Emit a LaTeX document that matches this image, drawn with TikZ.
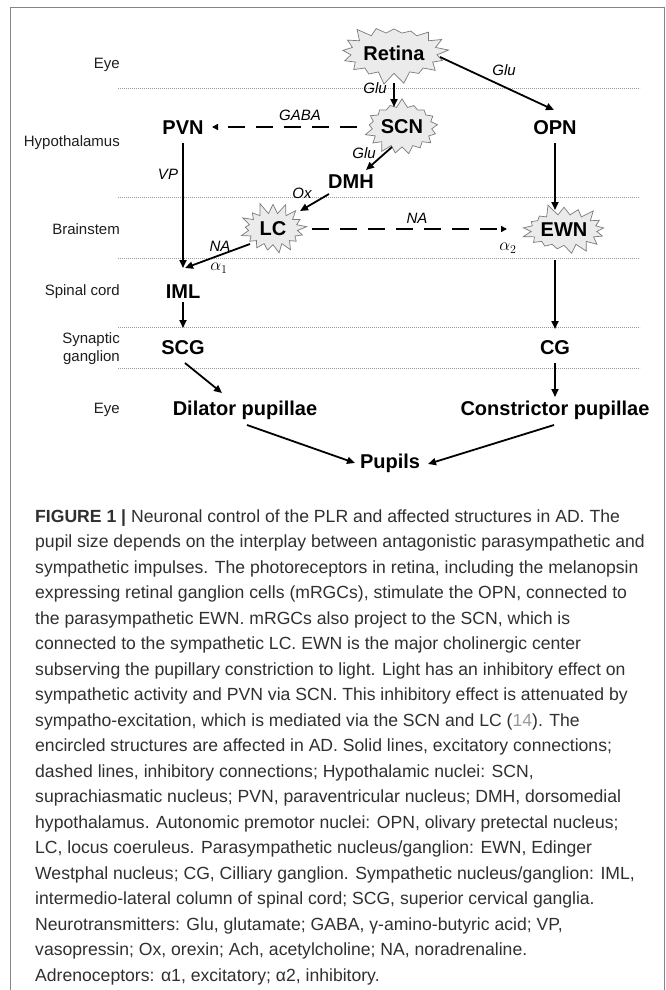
\documentclass[tikz,border=0pt]{standalone}
\usepackage{fontspec}
\setmainfont{Liberation Sans}
\usetikzlibrary{shapes.symbols,arrows.meta,calc}
\definecolor{framegray}{HTML}{858585}
\definecolor{dotgray}{HTML}{9A9A9A}
\definecolor{burstline}{HTML}{7A7A7A}
\definecolor{burstfill}{HTML}{EBEBEB}
\definecolor{captext}{HTML}{303030}
\definecolor{rowtext}{HTML}{1E1E1E}
\definecolor{reflink}{HTML}{9A9A9A}
\begin{document}
\begin{tikzpicture}[x=1pt,y=-1pt,
  nd/.style={font=\fontsize{20}{24}\selectfont\bfseries, inner sep=0pt},
  burst/.style={shape=starburst, draw=burstline, fill=burstfill, line width=0.7pt,
    starburst points=17, random starburst=#1, inner sep=0pt,
    font=\fontsize{20}{24}\selectfont\bfseries},
  burst/.default=1,
  lab/.style={font=\fontsize{15}{18}\selectfont\itshape, inner sep=0pt},
  alab/.style={font=\fontsize{17}{20}\selectfont, inner sep=0pt},
  rowlab/.style={font=\fontsize{15}{18}\selectfont, anchor=east, inner sep=0pt, text=rowtext},
  arr/.style={line width=1.8pt, -{Triangle[length=8pt,width=7pt]}},
  darr/.style={line width=2.4pt, dash pattern=on 17pt off 11pt, -{Triangle[length=6pt,width=6pt]}},
  dline/.style={draw=dotgray, line width=0.7pt, dash pattern=on 0.8pt off 1.2pt},
  captxt/.style={font=\fontsize{17.6}{21}\selectfont, anchor=base west, inner sep=0pt, text=captext}
]
\useasboundingbox (0,0) rectangle (665,990);
\fill[white] (0,0) rectangle (665,990);
\draw[draw=framegray, line width=1pt] (10,1000) -- (10,8) -- (664,8) -- (664,1000);

% dotted separators
\foreach \yy in {88,197,258,327,368}
  \draw[dline] (118,\yy) -- (640,\yy);

% row labels
\node[rowlab] (r1) at (120,65) {Eye};
\node[rowlab] (r2) at (120,143) {Hypothalamus};
\node[rowlab] (r3) at (120,229) {Brainstem};
\node[rowlab] (r4) at (120,292) {Spinal cord};
\node[rowlab, align=right, font=\fontsize{15}{18}\selectfont] (r5) at (120,349) {Synaptic\\ganglion};
\node[rowlab] (r6) at (120,410) {Eye};

% nodes
\node[burst=3, inner xsep=0pt, inner ysep=7pt, starburst point height=12pt] (retina) at (394,53) {Retina};
\node[burst=7, inner xsep=0pt, inner ysep=7pt, starburst point height=9pt] (scn) at (402,127) {SCN};
\node[nd] (pvn) at (183,128) {PVN};
\node[nd] (opn) at (555,128) {OPN};
\node[nd] (dmh) at (351,182) {DMH};
\node[burst=11, inner xsep=4pt, inner ysep=4pt, starburst point height=12pt] (lc) at (273,229) {LC};
\node[burst=5, inner xsep=0pt, inner ysep=4pt, starburst point height=12pt] (ewn) at (564,230) {EWN};
\node[nd] (iml) at (183,292) {IML};
\node[nd] (scg) at (183,348) {SCG};
\node[nd] (cg) at (555,348) {CG};
\node[nd] (dil) at (245,410) {Dilator pupillae};
\node[nd] (con) at (555,410) {Constrictor pupillae};
\node[nd] (pup) at (390,463) {Pupils};

% connectors
\draw[arr] ($(retina)+(0,30)$) -- ($(scn)+(-8,-20)$);
\draw[arr] ($(retina)+(46,4)$) -- ($(opn)+(-1,-18)$);
\draw[darr] ($(scn)+(-45,0)$) -- ($(pvn)+(29,-1)$);
\draw[arr] ($(scn)+(-10,20)$) -- ($(dmh)+(15,-12)$);
\draw[arr] ($(dmh)+(-22,12)$) -- ($(lc)+(27,-18)$);
\draw[arr] ($(lc)+(-23,15)$) -- ($(iml)+(2,-24)$);
\draw[darr] ($(lc)+(39,0)$) -- ($(ewn)+(-57,-1)$);
\draw[arr] ($(pvn)+(0,15)$) -- ($(iml)+(0,-24)$);
\draw[arr] ($(opn)+(0,15)$) -- ($(ewn)+(-9,-20)$);
\draw[arr] ($(iml)+(0,10)$) -- ($(scg)+(0,-20)$);
\draw[arr] ($(ewn)+(-9,30)$) -- ($(cg)+(0,-19)$);
\draw[arr] ($(scg)+(2,15)$) -- ($(dil)+(-23,-17)$);
\draw[arr] ($(cg)+(0,15)$) -- ($(con)+(0,-13)$);
\draw[arr] ($(dil)+(2,15)$) -- ($(pup)+(-35,0)$);
\draw[arr] ($(con)+(-1,15)$) -- ($(pup)+(38,1)$);

% connector labels
\node[lab] (l1) at (375,88) {Glu};
\node[lab] (l2) at (504,70) {Glu};
\node[lab] (l3) at (300,115) {GABA};
\node[lab] (l4) at (364,153) {Glu};
\node[lab] (l5) at (302,193) {Ox};
\node[lab] (l6) at (168,174) {VP};
\node[lab] (l7) at (220,246) {NA};
\node[alab] (l8) at (219,268) {$\alpha_1$};
\node[lab] (l9) at (417,218) {NA};
\node[alab] (l10) at (508,248) {$\alpha_2$};

% caption
\node[captxt] (c1) at (35,522) {\textbf{FIGURE 1 |} Neuronal control of the PLR and affected structures in AD. The};
\node[captxt] (c2) at (35,547.5) {pupil size depends on the interplay between antagonistic parasympathetic and};
\node[captxt] (c3) at (35,573) {sympathetic impulses. The photoreceptors in retina, including the melanopsin};
\node[captxt] (c4) at (35,598.5) {expressing retinal ganglion cells (mRGCs), stimulate the OPN, connected to};
\node[captxt] (c5) at (35,624) {the parasympathetic EWN. mRGCs also project to the SCN, which is};
\node[captxt] (c6) at (35,649.5) {connected to the sympathetic LC. EWN is the major cholinergic center};
\node[captxt] (c7) at (35,675) {subserving the pupillary constriction to light. Light has an inhibitory effect on};
\node[captxt] (c8) at (35,700.5) {sympathetic activity and PVN via SCN. This inhibitory effect is attenuated by};
\node[captxt] (c9) at (35,726) {sympatho-excitation, which is mediated via the SCN and LC (\textcolor{reflink}{14}). The};
\node[captxt] (c10) at (35,751.5) {encircled structures are affected in AD. Solid lines, excitatory connections;};
\node[captxt] (c11) at (35,777) {dashed lines, inhibitory connections; Hypothalamic nuclei: SCN,};
\node[captxt] (c12) at (35,802.5) {suprachiasmatic nucleus; PVN, paraventricular nucleus; DMH, dorsomedial};
\node[captxt] (c13) at (35,828) {hypothalamus. Autonomic premotor nuclei: OPN, olivary pretectal nucleus;};
\node[captxt] (c14) at (35,853.5) {LC, locus coeruleus. Parasympathetic nucleus/ganglion: EWN, Edinger};
\node[captxt] (c15) at (35,879) {Westphal nucleus; CG, Cilliary ganglion. Sympathetic nucleus/ganglion: IML,};
\node[captxt] (c16) at (35,904.5) {intermedio-lateral column of spinal cord; SCG, superior cervical ganglia.};
\node[captxt] (c17) at (35,930) {Neurotransmitters: Glu, glutamate; GABA, γ-amino-butyric acid; VP,};
\node[captxt] (c18) at (35,955.5) {vasopressin; Ox, orexin; Ach, acetylcholine; NA, noradrenaline.};
\node[captxt] (c19) at (35,981) {Adrenoceptors: α1, excitatory; α2, inhibitory.};
\end{tikzpicture}
\end{document}
